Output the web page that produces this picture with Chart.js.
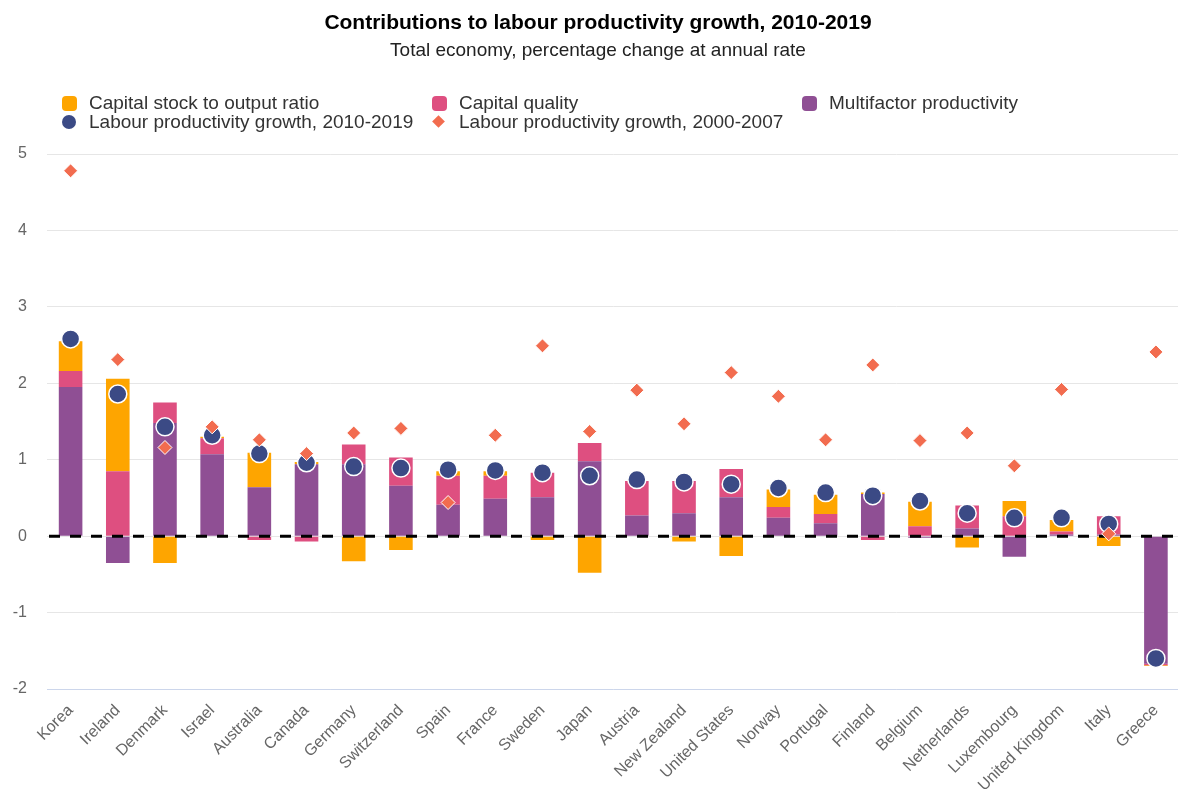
<!DOCTYPE html>
<html>
<head>
<meta charset="utf-8">
<script src="https://cdn.jsdelivr.net/npm/chart.js@4.4.1/dist/chart.umd.min.js"></script>
<style>
  html, body { margin: 0; padding: 0; background: #fff; overflow: hidden; }
  body { width: 1178px; height: 796px; position: relative; font-family: "Liberation Sans", Arial, sans-serif; }
  #wrap { position: absolute; left: 0; top: 0; width: 1190px; height: 796px; }
  .title { position: absolute; left: 0; width: 1196px; top: 10px; text-align: center; font-size: 21px; font-weight: bold; color: #000; }
  .subtitle { position: absolute; left: 0; width: 1196px; top: 39px; text-align: center; font-size: 19px; color: #222; }
  .legend { position: absolute; top: 93px; left: 0; font-size: 19px; color: #333; }
  .item { position: absolute; white-space: nowrap; line-height: 19px; }
  .item span.m { position: absolute; top: 3px; }
  .sq { width: 15px; height: 15px; border-radius: 4px; left: -27px; }
  .dot { width: 14px; height: 14px; border-radius: 50%; left: -27px; }
  .dia { width: 9px; height: 9px; transform: rotate(45deg); left: -25px; top: 5px !important; }
</style>
</head>
<body>
<div id="wrap"><canvas id="chart" width="1190" height="796"></canvas></div>
<div class="title">Contributions to labour productivity growth, 2010-2019</div>
<div class="subtitle">Total economy, percentage change at annual rate</div>
<div class="legend" id="legend"></div>
<script>
const countries = ['Korea', 'Ireland', 'Denmark', 'Israel', 'Australia', 'Canada', 'Germany', 'Switzerland',
  'Spain', 'France', 'Sweden', 'Japan', 'Austria', 'New Zealand', 'United States', 'Norway', 'Portugal',
  'Finland', 'Belgium', 'Netherlands', 'Luxembourg', 'United Kingdom', 'Italy', 'Greece'];

// contributions, percentage points
const multifactor = [1.95, -0.35, 1.48, 1.07, 0.64, 0.94, 0.94, 0.66, 0.41, 0.49, 0.51, 0.98, 0.27, 0.30,
  0.51, 0.24, 0.17, 0.55, -0.02, 0.10, -0.27, 0.02, 0.02, -1.67];
const capitalQuality = [0.21, 0.85, 0.27, 0.21, -0.05, -0.07, 0.26, 0.37, 0.38, 0.30, 0.32, 0.24, 0.45, 0.42,
  0.37, 0.14, 0.12, -0.05, 0.13, 0.30, 0.26, 0.04, 0.24, -0.02];
const capitalStock = [0.39, 1.21, -0.35, 0.02, 0.45, 0.03, -0.33, -0.18, 0.06, 0.06, -0.05, -0.48, 0.00, -0.07,
  -0.26, 0.23, 0.25, 0.02, 0.32, -0.15, 0.20, 0.15, -0.13, -0.01];

const growth2010 = [2.58, 1.86, 1.43, 1.32, 1.08, 0.96, 0.91, 0.89, 0.87, 0.86, 0.83, 0.79, 0.74, 0.71,
  0.68, 0.63, 0.57, 0.53, 0.46, 0.30, 0.24, 0.24, 0.16, -1.60];
const growth2000 = [4.78, 2.31, 1.16, 1.43, 1.26, 1.08, 1.35, 1.41, 0.44, 1.32, 2.49, 1.37, 1.91, 1.47,
  2.14, 1.83, 1.26, 2.24, 1.25, 1.35, 0.92, 1.92, 0.03, 2.41];

const yTicks = [-2, -1, 0, 1, 2, 3, 4, 5];

const colors = {
  stock: '#fea500',
  quality: '#de4f80',
  mfp: '#8f4f94',
  lp2010: '#3b4a85',
  lp2000: '#f26c4f'
};

// html legend laid out in three columns like the original
const legendItems = [
  { text: 'Capital stock to output ratio', color: colors.stock, cls: 'sq', x: 89, y: 0 },
  { text: 'Capital quality', color: colors.quality, cls: 'sq', x: 459, y: 0 },
  { text: 'Multifactor productivity', color: colors.mfp, cls: 'sq', x: 829, y: 0 },
  { text: 'Labour productivity growth, 2010-2019', color: colors.lp2010, cls: 'dot', x: 89, y: 19 },
  { text: 'Labour productivity growth, 2000-2007', color: colors.lp2000, cls: 'dia', x: 459, y: 19 }
];
const legend = document.getElementById('legend');
legendItems.forEach(it => {
  const div = document.createElement('div');
  div.className = 'item';
  div.style.left = it.x + 'px';
  div.style.top = it.y + 'px';
  const m = document.createElement('span');
  m.className = 'm ' + it.cls;
  m.style.background = it.color;
  div.appendChild(m);
  div.appendChild(document.createTextNode(it.text));
  legend.appendChild(div);
});

// dashed zero line, drawn above the bars but under the markers
const zeroLine = {
  id: 'zeroLine',
  afterDatasetDraw(chart, args) {
    if (args.index !== 0) return;
    const ctx = chart.ctx;
    const y = chart.scales.y.getPixelForValue(0);
    ctx.save();
    ctx.strokeStyle = '#000';
    ctx.lineWidth = 3;
    ctx.setLineDash([11, 10]);
    ctx.beginPath();
    ctx.moveTo(chart.chartArea.left + 2, y);
    ctx.lineTo(chart.chartArea.right, y);
    ctx.stroke();
    ctx.restore();
  }
};

const barCommon = { barPercentage: 0.5, categoryPercentage: 1, borderWidth: 0, order: 2 };

new Chart(document.getElementById('chart'), {
  type: 'bar',
  data: {
    labels: countries,
    datasets: [
      Object.assign({ label: 'Multifactor productivity', data: multifactor, backgroundColor: colors.mfp }, barCommon),
      Object.assign({ label: 'Capital quality', data: capitalQuality, backgroundColor: colors.quality }, barCommon),
      Object.assign({ label: 'Capital stock to output ratio', data: capitalStock, backgroundColor: colors.stock }, barCommon),
      {
        type: 'line', label: 'Labour productivity growth, 2010-2019', data: growth2010, stack: 'lp2010',
        showLine: false, pointStyle: 'circle', pointRadius: 9, pointHoverRadius: 9,
        pointBackgroundColor: colors.lp2010, pointBorderColor: '#fff', pointBorderWidth: 1.5, order: 1
      },
      {
        type: 'line', label: 'Labour productivity growth, 2000-2007', data: growth2000, stack: 'lp2000',
        showLine: false, pointStyle: 'rectRot', pointRadius: 7, pointHoverRadius: 7,
        pointBackgroundColor: colors.lp2000, pointBorderColor: '#fff', pointBorderWidth: 1, order: 0
      }
    ]
  },
  options: {
    responsive: false,
    animation: false,
    layout: { padding: { top: 154, right: 2, left: 0, bottom: 0 } },
    plugins: { legend: { display: false }, tooltip: { enabled: false } },
    scales: {
      x: {
        stacked: true,
        grid: { display: false },
        border: { color: '#ccd6eb' },
        ticks: {
          minRotation: 45, maxRotation: 45, autoSkip: false, padding: 4,
          color: '#666', font: { family: '"Liberation Sans", Arial, sans-serif', size: 16 }
        },
        afterFit(scale) { scale.height = 107; }
      },
      y: {
        stacked: true,
        min: -2, max: 5,
        afterBuildTicks(scale) { scale.ticks = yTicks.map(v => ({ value: v })); },
        grid: { color: '#e6e6e6', drawTicks: false },
        border: { display: false },
        ticks: {
          padding: 20, color: '#666',
          font: { family: '"Liberation Sans", Arial, sans-serif', size: 16 }
        },
        afterFit(scale) { scale.width = 47; }
      }
    }
  },
  plugins: [zeroLine]
});
</script>
</body>
</html>
